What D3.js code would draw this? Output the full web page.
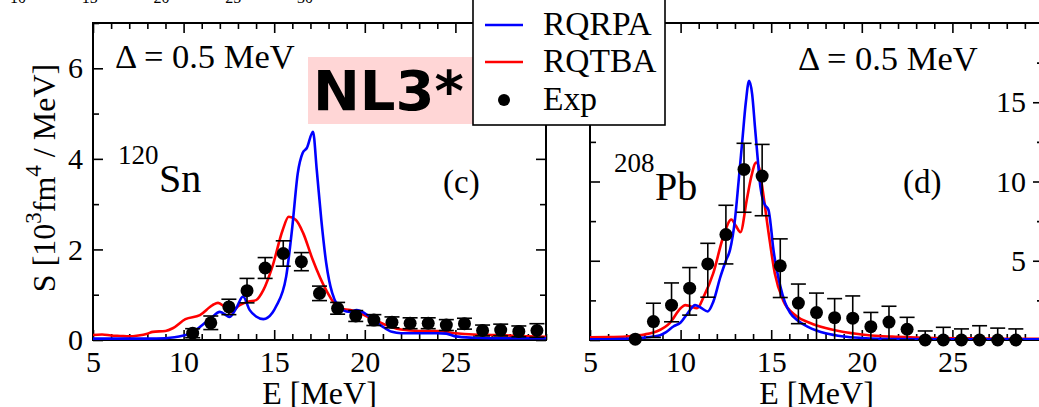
<!DOCTYPE html>
<html><head><meta charset="utf-8">
<script src="https://cdn.jsdelivr.net/npm/d3@7"></script>
<style>
html,body{margin:0;padding:0;background:#fff;}
svg{display:block;}
text{font-family:"Liberation Serif","Times New Roman",serif;fill:#000;}
</style></head>
<body>
<svg id="chart" width="1039" height="407"></svg>
<script>
// ---------- DATA ----------
const xDomain = [5, 30];
const xMajorTicks = [5, 10, 15, 20, 25];
const snYDomain = [0, 7];
const snYTicks = [0, 2, 4, 6];
const pbYDomain = [0, 20];
const pbYTicks = [5, 10, 15];
const legendLabels = ["RQRPA", "RQTBA", "Exp"];
const topCutLabels = ["10", "15", "20", "25", "30"];

// 120Sn, RQRPA
const snRqrpaE = [5, 6, 7, 8, 9, 9.5, 10, 10.5, 11, 11.5, 12, 12.55, 12.9, 13.28, 13.65, 14, 14.4, 14.9, 15.1, 15.66, 16.0, 16.3, 16.57, 16.8, 17.14, 17.35, 17.6, 17.87, 18.2, 18.77, 19.2, 19.55, 20.0, 20.5, 21.0, 21.5, 22, 23, 24, 24.5, 25, 26, 27, 28, 29, 30];
const snRqrpaS = [0.03, 0.03, 0.03, 0.03, 0.04, 0.06, 0.1, 0.16, 0.32, 0.48, 0.62, 0.51, 0.7, 0.96, 0.66, 0.52, 0.46, 0.6, 0.74, 1.4, 2.5, 3.68, 4.13, 4.24, 4.6, 3.75, 2.65, 1.7, 1.04, 0.66, 0.62, 0.66, 0.59, 0.44, 0.29, 0.18, 0.15, 0.15, 0.15, 0.14, 0.08, 0.05, 0.04, 0.04, 0.04, 0.04];
// 120Sn, RQTBA
const snRqtbaE = [5, 5.5, 6, 6.5, 7, 7.5, 8, 8.3, 9, 9.4, 10.1, 10.9, 11.6, 11.9, 12.2, 12.55, 13.1, 13.6, 14.0, 14.4, 14.9, 15.47, 15.8, 16.2, 16.6, 17.1, 17.87, 18.6, 19.2, 19.6, 20.3, 21, 21.5, 22, 23, 24, 25, 26, 27, 28, 29, 30];
const snRqtbaS = [0.11, 0.12, 0.1, 0.09, 0.08, 0.1, 0.14, 0.18, 0.2, 0.26, 0.46, 0.55, 0.77, 0.82, 0.75, 0.61, 0.77, 0.85, 0.88, 1.1, 1.62, 2.43, 2.72, 2.65, 2.36, 1.8, 1.1, 0.7, 0.66, 0.62, 0.48, 0.36, 0.28, 0.23, 0.2, 0.2, 0.15, 0.12, 0.11, 0.1, 0.08, 0.07];
// 120Sn, experiment
const snExpE = [10.5, 11.5, 12.5, 13.5, 14.5, 15.5, 16.5, 17.5, 18.5, 19.5, 20.5, 21.5, 22.5, 23.5, 24.5, 25.5, 26.5, 27.5, 28.5, 29.5];
const snExpS = [0.15, 0.38, 0.73, 1.09, 1.59, 1.91, 1.73, 1.03, 0.70, 0.53, 0.44, 0.39, 0.37, 0.37, 0.33, 0.36, 0.21, 0.22, 0.19, 0.21];
const snExpErr = [0.1, 0.15, 0.17, 0.27, 0.23, 0.28, 0.2, 0.16, 0.13, 0.12, 0.12, 0.12, 0.12, 0.12, 0.12, 0.12, 0.12, 0.13, 0.12, 0.15];

// 208Pb, RQRPA
const pbRqrpaE = [5, 6, 7, 7.5, 8, 8.5, 8.87, 9.2, 9.6, 10.0, 10.4, 10.8, 11.1, 11.5, 11.8, 12.2, 12.5, 12.73, 13.0, 13.2, 13.4, 13.6, 13.78, 13.95, 14.1, 14.25, 14.4, 14.55, 14.67, 14.85, 15.0, 15.1, 15.3, 15.5, 15.75, 16.05, 16.5, 17.0, 17.5, 18, 19, 20, 21, 22, 24, 26, 28, 30];
const pbRqrpaS = [0.05, 0.05, 0.07, 0.1, 0.15, 0.22, 0.3, 0.5, 0.85, 1.1, 1.7, 2.2, 2.05, 1.8, 2.4, 4.0, 5.0, 5.7, 7.6, 10.0, 12.5, 15.0, 16.35, 15.5, 13.5, 11.5, 9.7, 8.8, 8.5, 8.2, 7.0, 5.9, 4.5, 3.4, 2.4, 1.7, 1.2, 0.85, 0.6, 0.42, 0.22, 0.13, 0.08, 0.06, 0.05, 0.05, 0.05, 0.05];
// 208Pb, RQTBA
const pbRqtbaE = [5, 6, 7, 7.5, 8, 8.7, 9.4, 10.0, 10.25, 10.5, 10.9, 11.3, 11.8, 12.35, 12.8, 13.05, 13.3, 13.66, 13.9, 14.17, 14.35, 14.5, 14.85, 15.2, 15.66, 16.4, 17.15, 18, 19, 20, 21, 22, 23, 24, 26, 28, 30];
const pbRqtbaS = [0.17, 0.18, 0.22, 0.28, 0.35, 0.55, 1.07, 2.0, 2.2, 2.15, 2.0, 2.8, 4.2, 6.5, 7.6, 7.2, 6.8, 8.9, 10.3, 11.2, 10.8, 9.7, 6.8, 4.2, 2.5, 1.5, 1.07, 0.75, 0.5, 0.35, 0.25, 0.2, 0.15, 0.12, 0.1, 0.08, 0.07];
// 208Pb, experiment
const pbExpE = [7.5, 8.5, 9.5, 10.5, 11.5, 12.5, 13.5, 14.5, 15.5, 16.5, 17.5, 18.5, 19.5, 20.5, 21.5, 22.5, 23.5, 24.5, 25.5, 26.5, 27.5, 28.5];
const pbExpS = [0.05, 1.16, 2.2, 3.27, 4.8, 6.65, 10.76, 10.34, 4.68, 2.33, 1.73, 1.41, 1.38, 0.84, 1.13, 0.68, 0, 0, 0, 0, 0, 0];
const pbExpErrHi = [0, 1.16, 1.4, 1.3, 1.3, 1.85, 1.65, 2.0, 1.7, 1.2, 1.23, 1.2, 1.4, 0.9, 1.0, 0.75, 0.57, 0.8, 0.7, 0.9, 0.75, 0.7];
const pbExpErrLo = [0, 1.0, 1.05, 1.7, 2.1, 1.85, 2.7, 2.5, 2.0, 1.3, 1.73, 1.41, 1.38, 0.84, 1.13, 0.68, 0, 0, 0, 0, 0, 0];

// ---------- DRAWING ----------
const svg = d3.select("#chart");
svg.append("rect").attr("width", 1039).attr("height", 407).attr("fill", "#fff");

const BLUE = "#0000ff", RED = "#ff0000";
const TICKFONT = 30;

function minorTicks(domain, step) {
  const out = [];
  for (let v = domain[0]; v <= domain[1] + 1e-9; v += step) out.push(+v.toFixed(4));
  return out;
}

function drawPanel(id, x, y, opt) {
  const g = svg.append("g");
  const [x0, x1] = x.range(), [y0, y1] = y.range();
  const clipId = "clip-" + id;
  svg.append("defs").append("clipPath").attr("id", clipId)
    .append("rect").attr("x", x0).attr("y", y1).attr("width", x1 - x0).attr("height", y0 - y1);

  const xMinor = minorTicks(x.domain(), 1).filter(v => !xMajorTicks.includes(v));
  const yMinor = opt.yMinor.filter(v => !opt.yMajor.includes(v));

  function styleAxis(sel) {
    sel.select(".domain").remove();
    sel.selectAll(".tick line").attr("stroke", "#000").attr("stroke-width", 1.6);
    sel.selectAll(".tick text").attr("font-size", TICKFONT).attr("font-family", "Liberation Serif, serif").attr("fill", "#000");
  }
  // bottom
  g.append("g").attr("transform", `translate(0,${y0})`)
    .call(d3.axisBottom(x).tickValues(xMajorTicks).tickSize(-10).tickPadding(11).tickFormat(d3.format("d"))).call(styleAxis);
  g.append("g").attr("transform", `translate(0,${y0})`)
    .call(d3.axisBottom(x).tickValues(xMinor).tickSize(-6).tickFormat("")).call(styleAxis);
  // top
  g.append("g").attr("transform", `translate(0,${y1})`)
    .call(d3.axisTop(x).tickValues(xMajorTicks).tickSize(-10).tickFormat("")).call(styleAxis);
  g.append("g").attr("transform", `translate(0,${y1})`)
    .call(d3.axisTop(x).tickValues(xMinor).tickSize(-6).tickFormat("")).call(styleAxis);
  // left
  g.append("g").attr("transform", `translate(${x0},0)`)
    .call(d3.axisLeft(y).tickValues(opt.yMajor).tickSize(-10).tickPadding(10)
      .tickFormat(opt.leftLabels ? d3.format("d") : "")).call(styleAxis);
  g.append("g").attr("transform", `translate(${x0},0)`)
    .call(d3.axisLeft(y).tickValues(yMinor).tickSize(-6).tickFormat("")).call(styleAxis);
  // right (ticks point inward, labels inside if requested)
  g.append("g").attr("transform", `translate(${x1},0)`)
    .call(d3.axisLeft(y).tickValues(opt.rightMajor).tickSize(10).tickPadding(7)
      .tickFormat(opt.rightLabels ? d3.format("d") : "")).call(styleAxis);
  g.append("g").attr("transform", `translate(${x1},0)`)
    .call(d3.axisLeft(y).tickValues(yMinor).tickSize(6).tickFormat("")).call(styleAxis);

  // frame
  g.append("rect").attr("x", x0).attr("y", y1).attr("width", x1 - x0).attr("height", y0 - y1)
    .attr("fill", "none").attr("stroke", "#000").attr("stroke-width", 2);

  const plot = g.append("g").attr("clip-path", `url(#${clipId})`);
  const line = d3.line().x(d => x(d[0])).y(d => y(d[1])).curve(d3.curveMonotoneX);
  plot.append("path").datum(d3.zip(opt.rqtbaE, opt.rqtbaS)).attr("d", line)
    .attr("fill", "none").attr("stroke", RED).attr("stroke-width", 2.6);
  plot.append("path").datum(d3.zip(opt.rqrpaE, opt.rqrpaS)).attr("d", line)
    .attr("fill", "none").attr("stroke", BLUE).attr("stroke-width", 2.6);

  // experiment with error bars
  const pts = opt.expE.map((e, i) => ({ e, s: opt.expS[i], lo: opt.expS[i] - opt.errLo[i], hi: opt.expS[i] + opt.errHi[i], has: (opt.errLo[i] + opt.errHi[i]) > 0 }));
  const eb = plot.append("g").attr("stroke", "#000").attr("stroke-width", 1.6);
  pts.filter(p => p.has).forEach(p => {
    const cx = x(p.e);
    eb.append("line").attr("x1", cx).attr("x2", cx).attr("y1", y(p.lo)).attr("y2", y(p.hi));
    eb.append("line").attr("x1", cx - 7.5).attr("x2", cx + 7.5).attr("y1", y(p.hi)).attr("y2", y(p.hi));
    eb.append("line").attr("x1", cx - 7.5).attr("x2", cx + 7.5).attr("y1", y(p.lo)).attr("y2", y(p.lo));
  });
  g.append("g").selectAll("circle").data(pts).join("circle")
    .attr("cx", p => x(p.e)).attr("cy", p => y(p.s)).attr("r", 6.5).attr("fill", "#000");

  // annotations
  g.append("text").attr("x", opt.deltaX).attr("y", opt.deltaY).attr("font-size", 34.5).text("Δ = 0.5 MeV");
  g.append("text").attr("x", opt.nucX).attr("y", opt.nucY - 28).attr("font-size", 27).text(opt.mass);
  g.append("text").attr("x", opt.nucX + 41).attr("y", opt.nucY).attr("font-size", 40).text(opt.elem);
  g.append("text").attr("x", opt.tagX).attr("y", opt.tagY).attr("font-size", 33).text(opt.tag);
  g.append("text").attr("x", (x0 + x1) / 2).attr("y", 404).attr("text-anchor", "middle").attr("font-size", 32).text("E [MeV]");
  return g;
}

const xL = d3.scaleLinear().domain(xDomain).range([93, 546]);
const yL = d3.scaleLinear().domain(snYDomain).range([340, 23]);
const xR = d3.scaleLinear().domain(xDomain).range([590, 1043]);
const yR = d3.scaleLinear().domain(pbYDomain).range([340, 23]);

drawPanel("sn", xL, yL, {
  yMajor: snYTicks, yMinor: minorTicks(snYDomain, 1), leftLabels: true,
  rightMajor: snYTicks, rightLabels: false,
  rqrpaE: snRqrpaE, rqrpaS: snRqrpaS, rqtbaE: snRqtbaE, rqtbaS: snRqtbaS,
  expE: snExpE, expS: snExpS, errLo: snExpErr, errHi: snExpErr,
  deltaX: 115, deltaY: 68, nucX: 118, nucY: 192, mass: "120", elem: "Sn", tag: "(c)", tagX: 443, tagY: 193
});
drawPanel("pb", xR, yR, {
  yMajor: [0, 5, 10, 15, 20], yMinor: minorTicks(pbYDomain, 2.5), leftLabels: false,
  rightMajor: pbYTicks, rightLabels: true,
  rqrpaE: pbRqrpaE, rqrpaS: pbRqrpaS, rqtbaE: pbRqtbaE, rqtbaS: pbRqtbaS,
  expE: pbExpE, expS: pbExpS, errLo: pbExpErrLo, errHi: pbExpErrHi,
  deltaX: 798, deltaY: 70, nucX: 614, nucY: 200, mass: "208", elem: "Pb", tag: "(d)", tagX: 903, tagY: 193
});

// Y axis title
const yt = svg.append("text").attr("transform", "translate(55,178) rotate(-90)")
  .attr("text-anchor", "middle").attr("font-size", 32);
yt.append("tspan").text("S [10");
yt.append("tspan").attr("dy", -14).attr("font-size", 23).text("3");
yt.append("tspan").attr("dy", 14).text("fm");
yt.append("tspan").attr("dy", -14).attr("font-size", 23).text("4");
yt.append("tspan").attr("dy", 14).text(" / MeV]");

// cut-off labels from a panel above
const topCutX = d3.scaleLinear().domain([10, 30]).range([18, 305]);
svg.append("g").selectAll("text").data(topCutLabels).join("text")
  .attr("x", d => topCutX(+d)).attr("y", 3).attr("text-anchor", "middle")
  .attr("font-size", 16).attr("fill", "#333").text(d => d);

// NL3* badge
svg.append("rect").attr("x", 308).attr("y", 57).attr("width", 167).attr("height", 67).attr("fill", "#ffd6d6");
svg.append("text").attr("x", 313).attr("y", 110).attr("font-size", 56).attr("font-weight", "bold")
  .style("font-family", "'DejaVu Sans', sans-serif").attr("fill", "#222").text("NL3*");

// Legend
const lg = svg.append("g");
lg.append("rect").attr("x", 473).attr("y", -5).attr("width", 192).attr("height", 130)
  .attr("fill", "#fff").attr("stroke", "#000").attr("stroke-width", 1.6);
const legendRows = [{ c: BLUE, t: "line", y: 25 }, { c: RED, t: "line", y: 62 }, { c: "#000", t: "dot", y: 100 }];
legendRows.forEach((r, i) => {
  if (r.t === "line") {
    lg.append("line").attr("x1", 485).attr("x2", 523).attr("y1", r.y).attr("y2", r.y).attr("stroke", r.c).attr("stroke-width", 2.6);
  } else {
    lg.append("circle").attr("cx", 504).attr("cy", r.y).attr("r", 6).attr("fill", r.c);
  }
  lg.append("text").attr("x", 543).attr("y", r.y + 10).attr("font-size", 33.5).text(legendLabels[i]);
});
</script>
</body></html>
